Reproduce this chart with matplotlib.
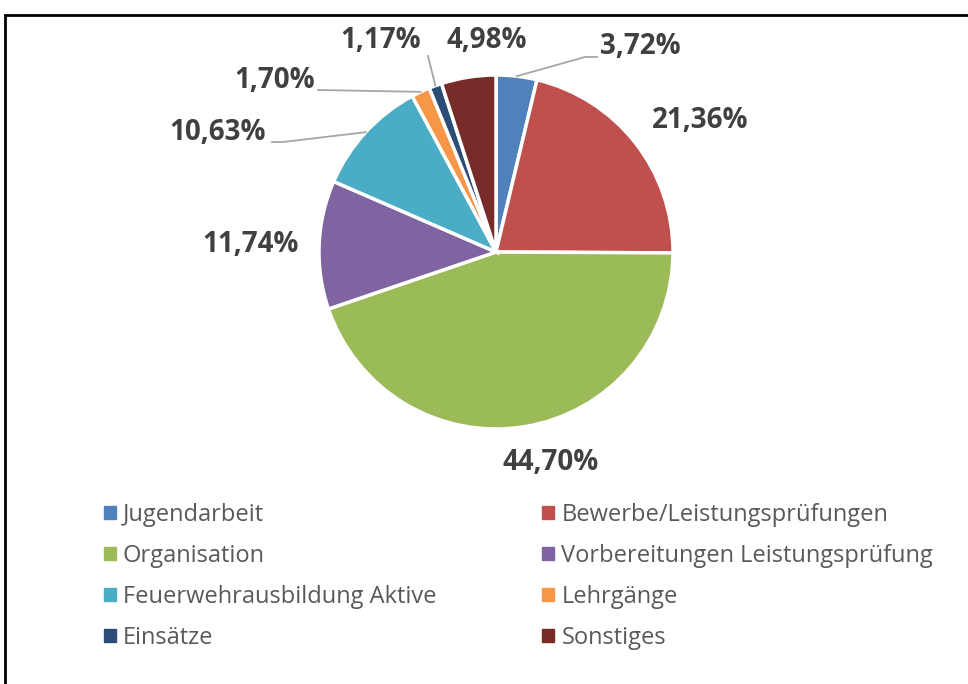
import matplotlib
matplotlib.use("Agg")
import matplotlib.pyplot as plt
import numpy as np
from matplotlib.patches import Patch, Rectangle

# data
categories = ["Jugendarbeit", "Bewerbe/Leistungsprüfungen", "Organisation",
              "Vorbereitungen Leistungsprüfung", "Feuerwehrausbildung Aktive",
              "Lehrgänge", "Einsätze", "Sonstiges"]
values = [3.72, 21.36, 44.70, 11.74, 10.63, 1.70, 1.17, 4.98]
colors = ["#4F81BD", "#C0504D", "#9BBB59", "#8064A2",
          "#4BACC6", "#F79646", "#2C4D75", "#772C2A"]
pct_labels = ["3,72%", "21,36%", "44,70%", "11,74%", "10,63%", "1,70%", "1,17%", "4,98%"]

W, H = 968, 684
fig = plt.figure(figsize=(W / 100, H / 100), dpi=100)
ax = fig.add_axes([0, 0, 1, 1])

cx, cy, r = 496, H - 252, 177
wedges, _ = ax.pie(values, colors=colors, startangle=90, counterclock=False,
                   center=(cx, cy), radius=r, frame=True,
                   wedgeprops=dict(edgecolor="white", linewidth=2.5))
ax.set_xlim(0, W)
ax.set_ylim(0, H)
ax.set_aspect("equal")
ax.axis("off")

# label positions (pixel coords from top) and optional leader elbows
label_pos = [(640, 47), (700, 120), (551, 462), (250, 245),
             (218, 133), (275, 80), (381, 40), (487, 40)]
leaders = {0: [(585, 57), (597, 57)],
           4: [(283, 142), (272, 142)],
           5: [(318, 90)],
           6: [(428, 56)]}

for i, w in enumerate(wedges):
    if i in leaders:
        ang = np.deg2rad((w.theta1 + w.theta2) / 2)
        pts = [(cx + r * np.cos(ang), cy + r * np.sin(ang))]
        pts += [(x, H - y) for x, y in leaders[i]]
        xs, ys = zip(*pts)
        ax.plot(xs, ys, color="#A6A6A6", lw=1.3, zorder=1)
    x, y = label_pos[i]
    ax.text(x, H - y, pct_labels[i], ha="center", va="center",
            fontsize=20, fontweight="bold", color="#404040", family="Open Sans")

# legend, row-major like the original
order = [0, 2, 4, 6, 1, 3, 5, 7]
handles = [Patch(facecolor=colors[i], edgecolor=colors[i]) for i in order]
labels = [categories[i] for i in order]
leg = fig.legend(handles, labels, ncol=2, loc="upper left",
                 bbox_to_anchor=(92 / W, 1 - 491 / H), frameon=False,
                 prop=dict(family="Open Sans", size=17),
                 handlelength=0.5, handleheight=0.5, handletextpad=0.3,
                 columnspacing=4.5, labelspacing=0.72, borderpad=0)
for t in leg.get_texts():
    t.set_color("#595959")

# outer frame (right and bottom edges run past the picture)
fig.patches.append(Rectangle((5 / W, -0.1), 1.1, 1 - 15 / H + 0.1,
                             transform=fig.transFigure, fill=False,
                             edgecolor="black", linewidth=2))

fig.savefig("out.png", dpi=100)
